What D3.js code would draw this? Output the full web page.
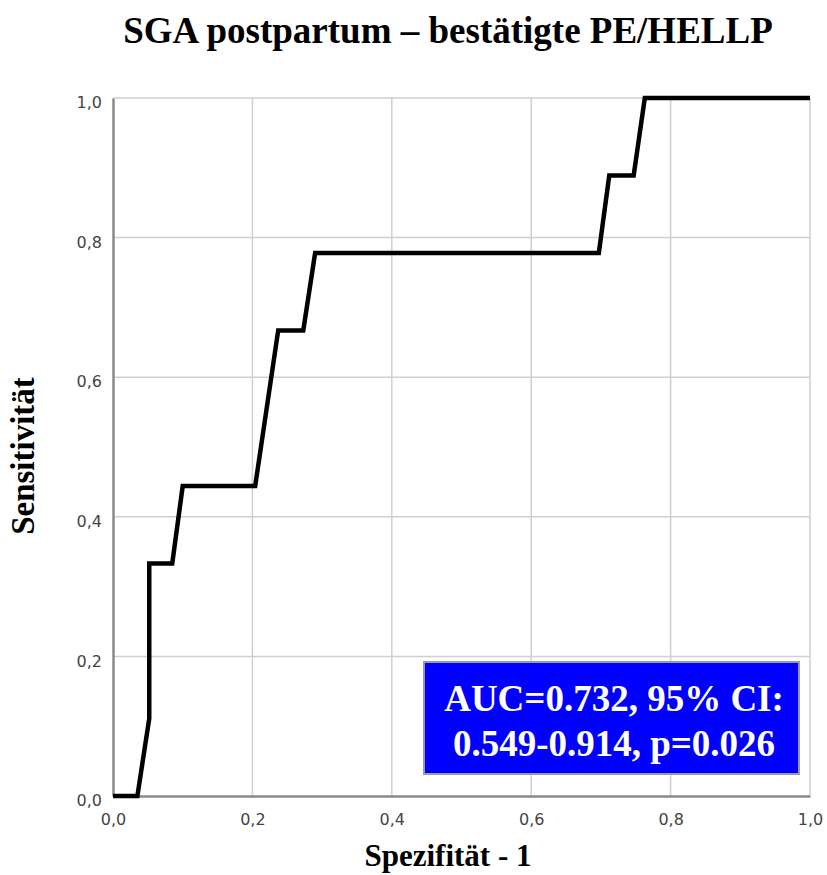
<!DOCTYPE html>
<html><head><meta charset="utf-8">
<script src="https://cdn.jsdelivr.net/npm/d3@7"></script>
<style>body{margin:0;background:#fff;} svg{display:block;}</style>
</head><body>
<script>
const title = "SGA postpartum – bestätigte PE/HELLP";
const xLabel = "Spezifität - 1";
const yLabel = "Sensitivität";
const tickValues = [0, 0.2, 0.4, 0.6, 0.8, 1.0];
const tickLabels = ["0,0", "0,2", "0,4", "0,6", "0,8", "1,0"];
const fpr = [0, 0.035, 0.052, 0.052, 0.085, 0.100, 0.204, 0.237, 0.273, 0.290, 0.697, 0.712, 0.747, 0.763, 1.0];
const tpr = [0, 0, 0.111, 0.333, 0.333, 0.444, 0.444, 0.667, 0.667, 0.778, 0.778, 0.889, 0.889, 1.0, 1.0];
const annotation = ["AUC=0.732, 95% CI:", "0.549-0.914, p=0.026"];

const W = 827, H = 875;
const svg = d3.select("body").append("svg").attr("width", W).attr("height", H);
const x = d3.scaleLinear().domain([0, 1]).range([113, 810]);
const y = d3.scaleLinear().domain([0, 1]).range([796, 98]);

// gridlines
const g = svg.append("g");
g.selectAll("line.vx").data(tickValues.slice(1)).join("line")
  .attr("x1", d => x(d)).attr("x2", d => x(d)).attr("y1", y(0)).attr("y2", y(1))
  .attr("stroke", "#cfcfcf").attr("stroke-width", 1.5);
g.selectAll("line.hy").data(tickValues.slice(1)).join("line")
  .attr("y1", d => y(d)).attr("y2", d => y(d)).attr("x1", x(0)).attr("x2", x(1))
  .attr("stroke", "#cfcfcf").attr("stroke-width", 1.5);

// axes
const xAxis = d3.axisBottom(x).tickValues(tickValues).tickFormat((d, i) => tickLabels[i]).tickSize(0).tickPadding(18);
const yAxis = d3.axisLeft(y).tickValues(tickValues).tickFormat((d, i) => tickLabels[i]).tickSize(0).tickPadding(11);
const ax = svg.append("g").attr("transform", `translate(0,${y(0)})`).call(xAxis);
const ay = svg.append("g").attr("transform", `translate(${x(0)},0)`).call(yAxis);
[ax, ay].forEach(a => {
  a.select(".domain").attr("stroke", "#8a8a8a").attr("stroke-width", 2.5);
  a.selectAll("text").style("font-size", "16px").style("font-family", "'DejaVu Sans', Verdana, sans-serif").attr("fill", "#444");
});
ay.selectAll("text").attr("dy", "0.6em");

// ROC line
const pts = fpr.map((f, i) => [f, tpr[i]]);
svg.append("path").datum(pts)
  .attr("d", d3.line().x(d => x(d[0])).y(d => y(d[1])))
  .attr("fill", "none").attr("stroke", "#000").attr("stroke-width", 4.5)
  .attr("stroke-linejoin", "miter");

// annotation box
svg.append("rect").attr("x", 424).attr("y", 662).attr("width", 375).attr("height", 112)
  .attr("fill", "#0000ff").attr("stroke", "#9a9a9a").attr("stroke-width", 2);
svg.append("g").selectAll("text").data(annotation).join("text")
  .attr("x", 614).attr("y", (d, i) => 711 + i * 45)
  .attr("text-anchor", "middle").attr("fill", "#fff")
  .attr("font-family", "Liberation Serif, Times New Roman, serif").attr("font-weight", "bold")
  .attr("font-size", 37).text(d => d);

// titles
svg.append("text").attr("x", 448).attr("y", 43).attr("text-anchor", "middle")
  .attr("font-family", "Liberation Serif, Times New Roman, serif").attr("font-weight", "bold")
  .attr("font-size", 37).text(title);
svg.append("text").attr("x", 448).attr("y", 866).attr("text-anchor", "middle")
  .attr("font-family", "Liberation Serif, Times New Roman, serif").attr("font-weight", "bold")
  .attr("font-size", 31).text(xLabel);
svg.append("text").attr("transform", "translate(34,456) rotate(-90)").attr("text-anchor", "middle")
  .attr("font-family", "Liberation Serif, Times New Roman, serif").attr("font-weight", "bold")
  .attr("font-size", 33).text(yLabel);
</script>
</body></html>
